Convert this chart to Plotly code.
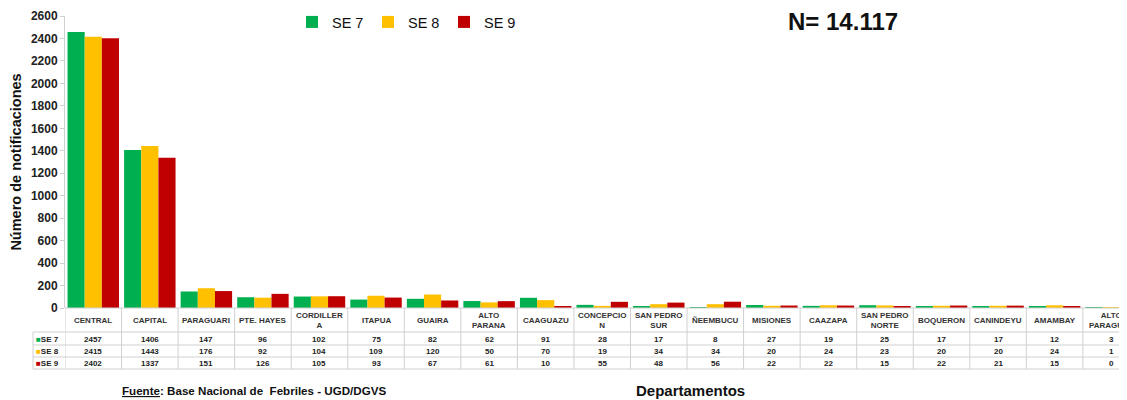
import plotly.graph_objects as go

# %% Data
departamentos = ['CENTRAL', 'CAPITAL', 'PARAGUARI', 'PTE. HAYES', 'CORDILLERA', 'ITAPUA', 'GUAIRA',
                 'ALTO PARANA', 'CAAGUAZU', 'CONCEPCION', 'SAN PEDRO SUR', 'ÑEEMBUCU', 'MISIONES',
                 'CAAZAPA', 'SAN PEDRO NORTE', 'BOQUERON', 'CANINDEYU', 'AMAMBAY', 'ALTO PARAGUAY']
header_labels = ['CENTRAL', 'CAPITAL', 'PARAGUARI', 'PTE. HAYES', 'CORDILLER<br>A', 'ITAPUA', 'GUAIRA',
                 'ALTO<br>PARANA', 'CAAGUAZU', 'CONCEPCIO<br>N', 'SAN PEDRO<br>SUR', 'ÑEEMBUCU', 'MISIONES',
                 'CAAZAPA', 'SAN PEDRO<br>NORTE', 'BOQUERON', 'CANINDEYU', 'AMAMBAY', 'ALTO<br>PARAGUAY']
se7 = [2457, 1406, 147, 96, 102, 75, 82, 62, 91, 28, 17, 8, 27, 19, 25, 17, 17, 12, 3]
se8 = [2415, 1443, 176, 92, 104, 109, 120, 50, 70, 19, 34, 34, 20, 24, 23, 20, 20, 24, 1]
se9 = [2402, 1337, 151, 126, 105, 93, 67, 61, 10, 55, 48, 56, 22, 22, 15, 22, 21, 15, 0]
y_ticks = list(range(0, 2601, 200))

series = [('SE 7', se7, '#00B050'), ('SE 8', se8, '#FFC000'), ('SE 9', se9, '#C00000')]
FONT = 'Arial, Liberation Sans, sans-serif'
GRID = '#d0d0d0'

# the page body adds an 8px margin, so the figure is 8px smaller than the window
PAGE_OFF = 8
W, H = 1127 - PAGE_OFF, 400 - PAGE_OFF
# plot area in window pixels: x 65..1127, 0 at y=308, 2600 at y=16
LEFT, TOP, BOTTOM = 65, 16, 308
def py(pix):
    """window pixel row -> paper y"""
    return (BOTTOM - pix) / (BOTTOM - TOP)

def px(pix):
    """window pixel column -> paper x"""
    return (pix - LEFT) / (1127 - LEFT)

x_idx = list(range(len(departamentos)))

fig = go.Figure()
for name, vals, color in series:
    fig.add_trace(go.Bar(x=x_idx, y=vals, name=name, marker=dict(color=color, line=dict(width=0))))

# %% Data table under the chart
shapes = []
annotations = []
row_y = [339, 351, 363]
row_lines = [308, 332, 345, 357, 369]
x_left = px(33)

for i, lab in enumerate(header_labels):
    annotations.append(dict(x=i, y=py(320), xref='x', yref='paper', text=lab, showarrow=False,
                            font=dict(size=8, color='#333333', family=FONT, weight='bold'),
                            xanchor='center', yanchor='middle'))
    for r, (name, vals, color) in enumerate(series):
        annotations.append(dict(x=i, y=py(row_y[r]), xref='x', yref='paper', text=str(vals[i]),
                                showarrow=False, font=dict(size=8, color='#222222', family=FONT, weight='bold'),
                                xanchor='center', yanchor='middle'))
for r, (name, vals, color) in enumerate(series):
    annotations.append(dict(x=x_left + 0.001, y=py(row_y[r]), xref='paper', yref='paper',
                            text=f"<span style='color:{color}'>■</span>{name}", showarrow=False,
                            font=dict(size=8, color='#222222', family=FONT, weight='bold'),
                            xanchor='left', yanchor='middle'))

for i in range(len(departamentos) + 1):
    shapes.append(dict(type='line', xref='x', yref='paper', x0=i - 0.5, x1=i - 0.5,
                       y0=py(308), y1=py(369), line=dict(color=GRID, width=1)))
for k, pix in enumerate(row_lines):
    shapes.append(dict(type='line', xref='paper', yref='paper', x0=0 if k == 0 else x_left, x1=1.02,
                       y0=py(pix), y1=py(pix), line=dict(color=GRID, width=1)))
shapes.append(dict(type='line', xref='paper', yref='paper', x0=x_left, x1=x_left,
                   y0=py(332), y1=py(369), line=dict(color=GRID, width=1)))

# %% Titles and notes
annotations += [
    dict(x=px(900), y=py(22), xref='paper', yref='paper', text='<b>N= 14.117</b>',
         showarrow=False, font=dict(size=24, color='#111111', family=FONT), xanchor='right', yanchor='middle'),
    dict(x=px(120), y=py(390), xref='paper', yref='paper',
         text='<b><u>Fuente</u>: Base Nacional de  Febriles - UGD/DGVS</b>', showarrow=False,
         font=dict(size=11.6, color='#111111', family=FONT), xanchor='left', yanchor='middle'),
    dict(x=px(690), y=py(390), xref='paper', yref='paper', text='<b>Departamentos</b>',
         showarrow=False, font=dict(size=15, color='#111111', family=FONT), xanchor='center', yanchor='middle'),
]

fig.update_xaxes(range=[-0.5, 18.28], showticklabels=False, showline=False, showgrid=False,
                 zeroline=False, ticks='')
fig.update_yaxes(range=[0, 2600], tickvals=y_ticks, showgrid=False, zeroline=False,
                 showline=True, linecolor=GRID, linewidth=1, ticks='outside', ticklen=4, tickcolor=GRID,
                 tickfont=dict(size=12, color='#222222', family=FONT, weight='bold'),
                 title=dict(text='<b>Número de notificaciones</b>', font=dict(size=14.5, color='#111111', family=FONT),
                            standoff=6))

fig.update_layout(
    width=W, height=H,
    margin=dict(l=LEFT - PAGE_OFF, r=0, t=TOP - PAGE_OFF, b=H - (BOTTOM - PAGE_OFF), autoexpand=False),
    barmode='group', bargap=0.09, bargroupgap=0,
    plot_bgcolor='white', paper_bgcolor='white',
    font=dict(family=FONT),
    legend=dict(orientation='h', x=px(292), y=py(22), xanchor='left', yanchor='middle',
                font=dict(size=14.5, color='#111111', family=FONT), itemwidth=30,
                entrywidth=31, entrywidthmode='pixels', bgcolor='rgba(0,0,0,0)'),
    shapes=shapes,
    annotations=annotations,
)

fig.write_html("out.html")
